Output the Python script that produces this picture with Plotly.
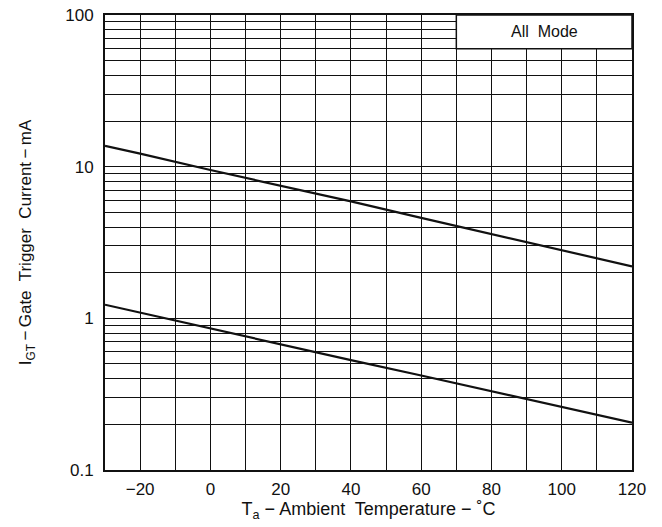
import numpy as np
import plotly.graph_objects as go

# Data
temp_c = [-30, -20, 0, 20, 40, 60, 80, 100, 120]
igt_upper = [13.7, 12.2, 9.5, 7.5, 5.9, 4.6, 3.6, 2.8, 2.2]
igt_lower = [1.23, 1.09, 0.86, 0.68, 0.53, 0.42, 0.33, 0.26, 0.205]

x_grid = list(range(-30, 121, 10))
x_labels = []
for v in x_grid:
    if v % 20 == 0:
        x_labels.append("\u2212" + str(-v) if v < 0 else str(v))
    else:
        x_labels.append("")

y_grid = []
y_labels = []
for dec in [0.1, 1, 10]:
    for m in range(1, 10):
        v = round(dec * m, 4)
        y_grid.append(v)
        y_labels.append(("%g" % v) if m == 1 else "")
y_grid.append(100)
y_labels.append("100")

legend_text = "All  Mode"

ink = "#111111"
font_family = "Liberation Sans, Arial, sans-serif"

fig = go.Figure()
for ys in (igt_upper, igt_lower):
    fig.add_trace(go.Scatter(x=temp_c, y=ys, mode="lines",
                             line=dict(color=ink, width=2.2), showlegend=False,
                             hoverinfo="skip"))

fig.update_layout(
    width=662, height=527,
    margin=dict(l=105, r=30, t=15, b=57, autoexpand=False),
    paper_bgcolor="white", plot_bgcolor="white",
    font=dict(family=font_family, size=17, color=ink),
    showlegend=False,
)

fig.update_xaxes(
    range=[-30, 120], tickvals=x_grid, ticktext=x_labels,
    showgrid=True, gridcolor=ink, gridwidth=1,
    showline=True, linecolor=ink, linewidth=2, mirror=True,
    ticks="", zeroline=False, ticklabelstandoff=3, automargin=False,
    tickfont=dict(size=17, color=ink),
    title=dict(text="T<sub>a</sub> \u2212 Ambient  Temperature \u2212 \u02daC",
               font=dict(size=18, color=ink), standoff=4),
)
fig.update_yaxes(
    type="log", range=[-1, 2], tickvals=y_grid, ticktext=y_labels,
    showgrid=True, gridcolor=ink, gridwidth=1,
    showline=True, linecolor=ink, linewidth=2, mirror=True,
    ticks="", zeroline=False, ticklabelstandoff=6, automargin=False,
    tickfont=dict(size=17, color=ink),
    title=dict(text="I<sub>GT</sub>\u2009\u2212\u2009Gate  Trigger  Current\u2009\u2212\u2009mA",
               font=dict(size=17, color=ink), standoff=29),
)

# "All Mode" label box in the top-right corner
fig.add_shape(type="rect", xref="x", yref="y",
              x0=70, x1=120, y0=60, y1=100,
              fillcolor="white", line=dict(color=ink, width=1.5), layer="above")
fig.add_annotation(x=95, y=np.log10(77.5), xref="x", yref="y", text=legend_text,
                   showarrow=False, font=dict(size=16, color=ink))

fig.write_html("out.html", config={"displayModeBar": False},
               post_script="document.body.style.margin='0';")
